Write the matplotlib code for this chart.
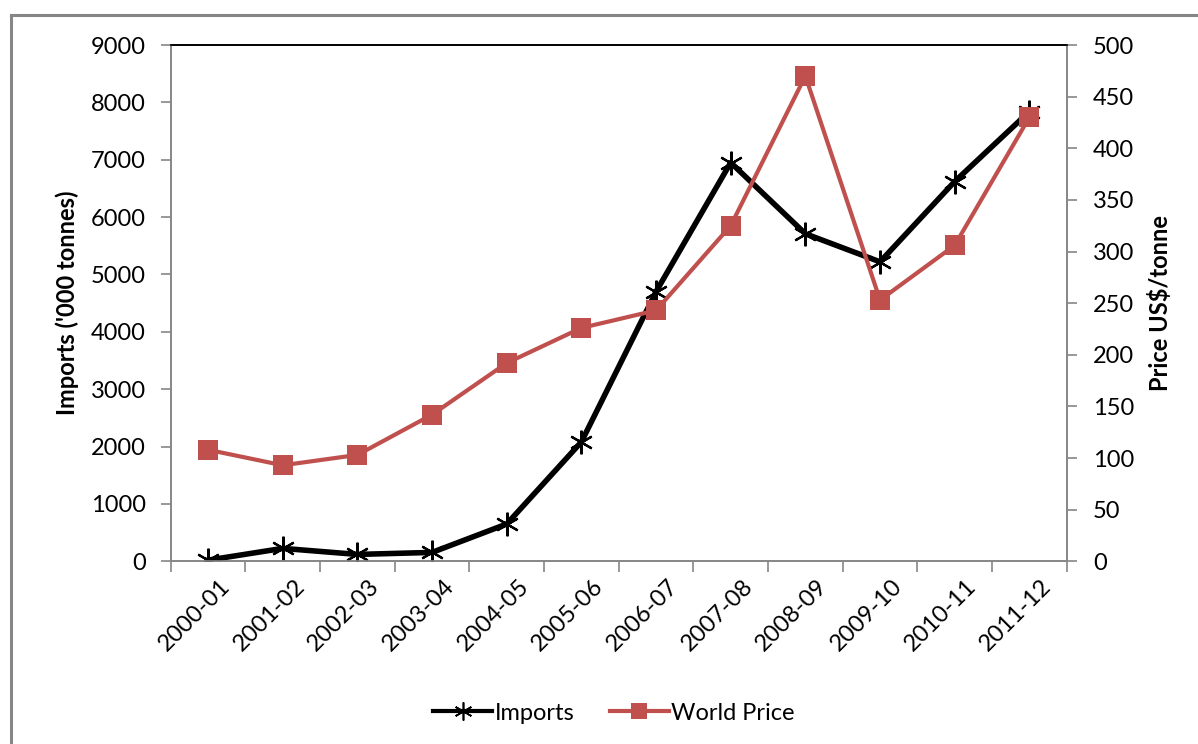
import matplotlib
matplotlib.use("Agg")
import matplotlib.pyplot as plt
from matplotlib.lines import Line2D
from matplotlib.ticker import FixedLocator, NullFormatter, FixedFormatter
import matplotlib.transforms as mtransforms

plt.rcParams['font.family'] = ['Lato', 'DejaVu Sans']

years = ["2000-01", "2001-02", "2002-03", "2003-04", "2004-05", "2005-06",
         "2006-07", "2007-08", "2008-09", "2009-10", "2010-11", "2011-12"]
imports = [20, 225, 120, 155, 650, 2080, 4700, 6950, 5710, 5220, 6620, 7840]
world_price = [108, 93, 103, 142, 192, 226, 243, 325, 470, 253, 306, 430]

RED = "#C0504D"
GRAY = "#868686"

fig = plt.figure(figsize=(11.98, 7.44), dpi=100)
ax = fig.add_axes([170.7 / 1198, 1 - 561.3 / 744, (1066.7 - 170.7) / 1198, (561.3 - 45) / 744])
ax2 = ax.twinx()

x = list(range(len(years)))
star = (6, 2, 0)
ax.plot(x, imports, color="black", lw=4.0, marker=star, markersize=17,
        markeredgewidth=1.6, zorder=3, solid_joinstyle="round")
ax2.plot(x, world_price, color=RED, lw=3.0, marker="s", markersize=14.5,
         markeredgewidth=0, zorder=3)

ax.set_xlim(-0.5, len(years) - 0.5)
ax.set_ylim(0, 9000)
ax2.set_ylim(0, 500)
ax.set_yticks(range(0, 9001, 1000))
ax2.set_yticks(range(0, 501, 50))

# category boundaries carry the tick marks, centres carry the labels
ax.xaxis.set_major_locator(FixedLocator([i - 0.5 for i in range(len(years) + 1)]))
ax.xaxis.set_major_formatter(NullFormatter())
ax.xaxis.set_minor_locator(FixedLocator(x))
ax.xaxis.set_minor_formatter(FixedFormatter(years))
ax.tick_params(axis="x", which="minor", length=0, pad=10, labelsize=17)
ax.tick_params(axis="x", which="major", length=8, width=1.2, color=GRAY, direction="out")
offset = mtransforms.ScaledTranslation(8 / 72, 0, fig.dpi_scale_trans)
for lab in ax.xaxis.get_minorticklabels():
    lab.set_rotation(45)
    lab.set_ha("right")
    lab.set_va("top")
    lab.set_rotation_mode("anchor")
    lab.set_transform(lab.get_transform() + offset)

ax.tick_params(axis="y", length=7, width=1.2, color=GRAY, pad=11, labelsize=17)
ax2.tick_params(axis="y", length=7, width=1.2, color=GRAY, pad=12, labelsize=17)

for a in (ax, ax2):
    for side in ("left", "right", "bottom"):
        a.spines[side].set_color(GRAY)
        a.spines[side].set_linewidth(1.2)
    a.spines["top"].set_color("black")
    a.spines["top"].set_linewidth(1.2)

ax.set_ylabel("Imports ('000 tonnes)", fontsize=17, fontweight="bold", labelpad=8)
ax2.set_ylabel("Price US$/tonne", fontsize=17, fontweight="bold", labelpad=10)

handles = [
    Line2D([], [], color="black", lw=3.0, marker=star, markersize=13, markeredgewidth=1.2),
    Line2D([], [], color=RED, lw=3.0, marker="s", markersize=11, markeredgewidth=0),
]
fig.legend(handles, ["Imports", "World Price"], loc="center", bbox_to_anchor=(614 / 1198, 1 - 713 / 744),
           ncol=2, frameon=False, fontsize=17, handlelength=2.5, handletextpad=0.1,
           columnspacing=1.5)

# outer chart frame (top and left edges)
fig.add_artist(Line2D([11 / 1198, 11 / 1198], [0, 1 - 15 / 744], transform=fig.transFigure,
                      color=GRAY, lw=2.2))
fig.add_artist(Line2D([11 / 1198, 1], [1 - 15 / 744, 1 - 15 / 744], transform=fig.transFigure,
                      color=GRAY, lw=2.2))

fig.savefig("out.png", dpi=100)
